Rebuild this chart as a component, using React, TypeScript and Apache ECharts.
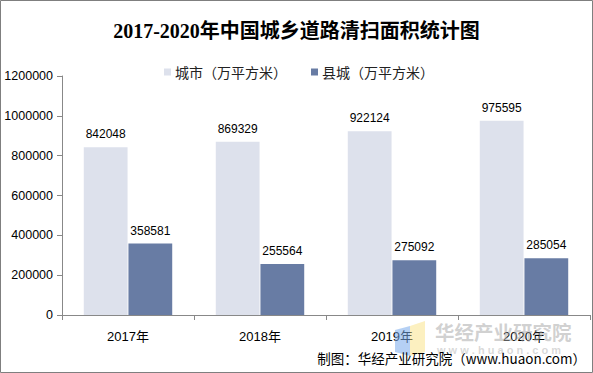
import React, { useEffect, useRef } from "react";
import * as echarts from "echarts";

const categories = ["2017年", "2018年", "2019年", "2020年"];
const cityValues = [842048, 869329, 922124, 975595];
const countyValues = [358581, 255564, 275092, 285054];
const seriesNames = ["城市（万平方米）", "县城（万平方米）"];
const titleText = "2017-2020年中国城乡道路清扫面积统计图";
const sourceText = "制图：华经产业研究院（www.huaon.com）";

export default function App() {
  const ref = useRef<HTMLDivElement>(null);
  useEffect(() => {
    if (!ref.current) return;
    const chart = echarts.init(ref.current, undefined, { renderer: "svg" });
    const sans = "'Liberation Sans', Arial, 'Noto Sans CJK SC', sans-serif";
    chart.setOption({
      animation: false,
      backgroundColor: "#ffffff",
      title: {
        text: titleText,
        left: "center",
        top: 16,
        textStyle: {
          fontFamily: "'Liberation Serif', 'Noto Sans CJK SC', serif",
          fontWeight: "bold",
          fontSize: 20,
          color: "#000",
        },
      },
      legend: {
        left: 159,
        top: 60,
        itemWidth: 7,
        itemHeight: 7,
        itemGap: 24,
        icon: "rect",
        textStyle: { fontFamily: "'Noto Sans CJK SC', sans-serif", fontSize: 14, color: "#222", padding: [0, 0, 0, -1] },
        data: seriesNames,
      },
      grid: { left: 62, top: 76, right: 3, bottom: 58, containLabel: false },
      xAxis: {
        type: "category",
        data: categories,
        axisLine: { lineStyle: { color: "#888", width: 1 } },
        axisTick: { show: true, alignWithLabel: false, length: 5, lineStyle: { color: "#888" } },
        axisLabel: { margin: 15, fontFamily: sans, fontSize: 13, color: "#000" },
      },
      yAxis: {
        type: "value",
        min: 0,
        max: 1200000,
        interval: 200000,
        axisLine: { show: true, lineStyle: { color: "#888", width: 1 } },
        axisTick: { show: true, length: 5, lineStyle: { color: "#888" } },
        splitLine: { show: false },
        axisLabel: {
          margin: 9,
          fontFamily: sans,
          fontSize: 12.5,
          color: "#000",
          formatter: (v: number) => String(v),
        },
      },
      series: [
        {
          name: seriesNames[0],
          type: "bar",
          data: cityValues,
          barGap: "2%",
          barCategoryGap: "33%",
          itemStyle: { color: "#dde1ec" },
          label: { show: true, position: "top", distance: 7, fontFamily: sans, fontSize: 12, color: "#000" },
        },
        {
          name: seriesNames[1],
          type: "bar",
          data: countyValues,
          barGap: "2%",
          barCategoryGap: "33%",
          itemStyle: { color: "#687ca4" },
          label: { show: true, position: "top", distance: 7, fontFamily: sans, fontSize: 12, color: "#000" },
        },
      ],
      graphic: [
        {
          type: "rect",
          shape: { x: 0.5, y: 0.5, width: 592, height: 372 },
          style: { fill: "none", stroke: "#7f7f7f", lineWidth: 1 },
          z: 100,
        },
        {
          type: "polygon",
          shape: { points: [[395, 330], [410, 326], [410, 356], [395, 352]] },
          style: { fill: "rgba(120,170,235,0.55)" },
          z: 50,
        },
        {
          type: "polygon",
          shape: { points: [[410, 326], [425, 321], [425, 352], [410, 356]] },
          style: { fill: "rgba(250,225,130,0.5)" },
          z: 50,
        },
        {
          type: "text",
          left: 435,
          top: 322,
          style: {
            text: "华经产业研究院",
            font: "bold 19.5px 'Noto Sans CJK SC', sans-serif",
            fill: "rgba(170,170,170,0.55)",
          },
          z: 50,
        },
        {
          type: "text",
          left: 437,
          top: 344,
          style: {
            text: "w w w . h u a o n . c o m",
            font: "bold 11px 'Liberation Sans', Arial, sans-serif",
            fill: "rgba(170,170,170,0.45)",
          },
          z: 50,
        },
        {
          type: "text",
          right: 7,
          top: 351,
          style: {
            text: sourceText,
            font: "13.5px 'Noto Sans CJK SC', 'Liberation Sans', sans-serif",
            fill: "#000",
          },
          z: 60,
        },
      ],
    });
    return () => chart.dispose();
  }, []);
  return (
    <div
      ref={ref}
      style={{ position: "fixed", left: 0, top: 0, width: 593, height: 373 }}
    />
  );
}
